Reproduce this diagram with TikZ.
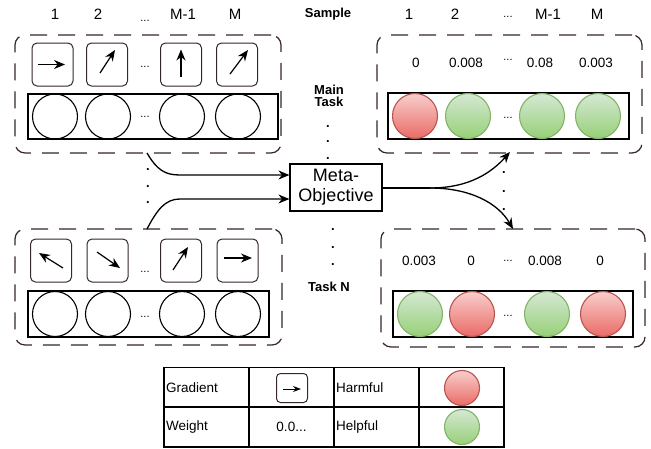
\documentclass[tikz,border=0pt]{standalone}
\usepackage{fontspec}
\setmainfont{Liberation Sans}
\usetikzlibrary{arrows.meta}
\definecolor{dk}{RGB}{54,38,44}
\definecolor{redtop}{HTML}{F8CECC}
\definecolor{redbot}{HTML}{EA6B66}
\definecolor{redline}{HTML}{B85450}
\definecolor{greentop}{HTML}{D5E8D4}
\definecolor{greenbot}{HTML}{97D077}
\definecolor{greenline}{HTML}{82B366}
\begin{document}
\begin{tikzpicture}[x=1pt,y=-1pt,
  group/.style={draw=dk, line width=1.2pt, dash pattern=on 17pt off 11pt, rounded corners=10pt, inner sep=0pt},
  gradbox/.style={draw=dk, line width=1pt, rounded corners=5pt, minimum width=41pt, minimum height=43pt, inner sep=0pt},
  gar/.style={-{Stealth[length=11pt,width=9pt]}, line width=1.2pt},
  row/.style={draw, line width=1.2pt, inner sep=0pt},
  cell/.style={circle, draw, line width=1.1pt, minimum size=45pt, inner sep=0pt},
  harm/.style={cell, draw=redline, top color=redtop, bottom color=redbot},
  help/.style={cell, draw=greenline, top color=greentop, bottom color=greenbot},
  lab/.style={font=\fontsize{15}{17}\selectfont},
  val/.style={font=\fontsize{13.5}{15}\selectfont},
  bl/.style={font=\bfseries\fontsize{13}{15}\selectfont, align=center},
  ell/.style={font=\fontsize{11}{12}\selectfont, inner sep=0pt},
  dot/.style={font=\bfseries\fontsize{13}{14}\selectfont, inner sep=0pt},
  conn/.style={-{Stealth[length=11pt,width=9pt]}, line width=1.3pt},
  tab/.style={draw, line width=1.2pt, minimum height=39.5pt, inner sep=2pt, text width=81pt, font=\fontsize{13.5}{15}\selectfont}
]
\useasboundingbox (0,0) rectangle (651,448);

% ---- column labels
\foreach \x/\t [count=\i] in {55/1,98/2,183/M-1,235/M}{\node[lab] (tl\i) at (\x,14) {\t};}
\node[ell] (tle) at (145,21) {...};
\foreach \x/\t [count=\i] in {409/1,455/2,548/M-1,597/M}{\node[lab] (tr\i) at (\x,14) {\t};}
\node[ell] (tre) at (508,17) {...};
\node[bl] (sample) at (328,14) {Sample};

% ---- groups
\node[group, minimum width=266pt, minimum height=118pt] (g1) at (148,94) {};
\node[group, minimum width=265pt, minimum height=118pt] (g2) at (509.5,94) {};
\node[group, minimum width=267pt, minimum height=116pt] (g3) at (148.5,287) {};
\node[group, minimum width=264pt, minimum height=118pt] (g4) at (513,288) {};

% ---- top-left: gradients
\node[gradbox] (a1) at (52.5,64.5) {};
\node[gradbox] (a2) at (107,64.5) {};
\node[ell] (ae) at (145,67) {...};
\node[gradbox] (a3) at (181,64.5) {};
\node[gradbox] (a4) at (237,64.5) {};
\draw[gar] ([shift={(-14.5,0)}]a1.center) -- ([shift={(12.5,0)}]a1.center);
\draw[gar] ([shift={(-7,8.5)}]a2.center) -- ([shift={(8,-14.5)}]a2.center);
\draw[gar] ([shift={(0,12.5)}]a3.center) -- ([shift={(0,-15)}]a3.center);
\draw[gar] ([shift={(-7,9.5)}]a4.center) -- ([shift={(11,-14.5)}]a4.center);
\node[row, minimum width=250pt, minimum height=45pt] (r1) at (153,116.5) {};
\foreach \x [count=\i] in {55,108,182,238}{\node[cell] (c1\i) at (\x,116.5) {};}
\node[ell] (c1e) at (145,117) {...};

% ---- top-right: weights
\foreach \x/\t [count=\i] in {416/0,466/0.008,540/0.08,596/0.003}{\node[val] (v1\i) at (\x,63) {\t};}
\node[ell] (v1e) at (508,60) {...};
\node[row, minimum width=241pt, minimum height=46pt] (r2) at (508.5,116) {};
\node[harm] (d11) at (415,116) {};
\node[help] (d12) at (468,116) {};
\node[ell] (d1e) at (508,118) {...};
\node[help] (d13) at (542,116) {};
\node[help] (d14) at (598,116) {};

% ---- middle labels
\node[bl] (main) at (329,96) {Main\\[-3pt]Task};
\foreach \y [count=\i] in {127,142,159}{\node[dot] (m\i) at (328,\y) {.};}
\node[draw, line width=1.2pt, minimum width=92pt, minimum height=47pt, inner sep=0pt, align=center,
      font=\fontsize{18}{20}\selectfont] (meta) at (336,187.5) {Meta-\\Objective};
\foreach \y [count=\i] in {230,248,265}{\node[dot] (n\i) at (333,\y) {.};}
\node[bl] (taskn) at (329,287) {Task N};
\foreach \y [count=\i] in {170,187,203}{\node[dot] (l\i) at (148,\y) {.};}
\foreach \y [count=\i] in {173,192,210}{\node[dot] (q\i) at (504,\y) {.};}

% ---- bottom-left: gradients
\node[gradbox] (b1) at (51,260.5) {};
\node[gradbox] (b2) at (107.5,260.5) {};
\node[ell] (be) at (145,272) {...};
\node[gradbox] (b3) at (181,260.5) {};
\node[gradbox] (b4) at (237.5,260.5) {};
\draw[gar] ([shift={(12,7.5)}]b1.center) -- ([shift={(-12,-7.5)}]b1.center);
\draw[gar] ([shift={(-10.5,-8.5)}]b2.center) -- ([shift={(12.5,7.5)}]b2.center);
\draw[gar] ([shift={(-8,9.5)}]b3.center) -- ([shift={(7,-13.5)}]b3.center);
\draw[gar] ([shift={(-13.5,-2.5)}]b4.center) -- ([shift={(14.5,-2.5)}]b4.center);
\node[row, minimum width=241pt, minimum height=46pt] (r3) at (148.5,314) {};
\foreach \x [count=\i] in {55,108,182,238}{\node[cell] (c3\i) at (\x,314) {};}
\node[ell] (c3e) at (145,317) {...};

% ---- bottom-right: weights
\foreach \x/\t [count=\i] in {419/0.003,471/0,545/0.008,600/0}{\node[val] (v2\i) at (\x,261) {\t};}
\node[ell] (v2e) at (508,261) {...};
\node[row, minimum width=240pt, minimum height=46pt] (r4) at (513,314) {};
\node[help] (d21) at (420,314) {};
\node[harm] (d22) at (472,314) {};
\node[ell] (d2e) at (508,316) {...};
\node[help] (d23) at (547,314) {};
\node[harm] (d24) at (603,314) {};

% ---- connectors
\coordinate (s1) at (147,153);
\coordinate (s2) at (147,229);
\coordinate (k1) at (180,175);
\coordinate (k2) at (180,199);
\coordinate (sp) at (430,188);
\coordinate (t1) at (510,152);
\coordinate (t2) at (513,229);
\draw[conn] (s1) .. controls (157,170) and (165,175) .. (k1) -- (meta.west |- k1);
\draw[conn] (s2) .. controls (157,210) and (165,199) .. (k2) -- (meta.west |- k2);
\draw[line width=1.3pt] (meta.east |- sp) -- (sp);
\draw[conn] (sp) .. controls (470,188) and (492,172) .. (t1);
\draw[conn] (sp) .. controls (470,188) and (498,203) .. (t2);

% ---- legend
\node[tab, align=left] (lg1) at (206.5,387.5) {Gradient};
\node[tab, align=center] (lg2) at (291.5,387.5) {};
\node[tab, align=left] (lg3) at (376.5,387.5) {Harmful};
\node[tab, align=center] (lg4) at (461.5,387.5) {};
\node[tab, align=left, minimum height=40pt] (lg5) at (206.5,427) {Weight};
\node[tab, align=center, minimum height=40pt] (lg6) at (291.5,427) {0.0...};
\node[tab, align=left, minimum height=40pt] (lg7) at (376.5,427) {Helpful};
\node[tab, align=center, minimum height=40pt] (lg8) at (461.5,427) {};
\node[gradbox, minimum width=31pt, minimum height=29pt, rounded corners=4pt] (lgb) at (292,388) {};
\draw[-{Stealth[length=8pt,width=6pt]}, line width=1pt] ([shift={(-9,1)}]lgb.center) -- ([shift={(9,1)}]lgb.center);
\node[harm, minimum size=35pt] (lgr) at (462,388) {};
\node[help, minimum size=35pt] (lgg) at (462,427) {};
\end{tikzpicture}
\end{document}
